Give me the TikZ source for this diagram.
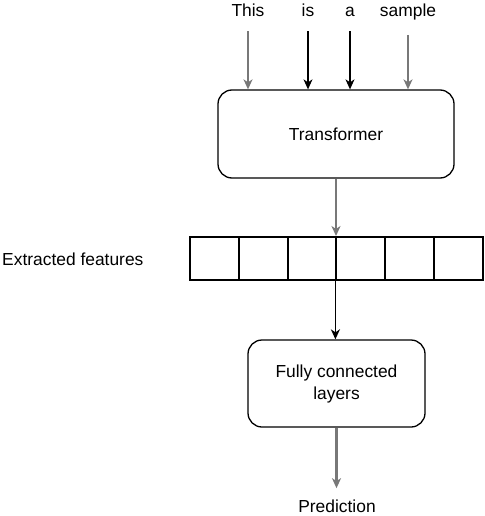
\documentclass[tikz,border=0pt]{standalone}
\usepackage{fontspec}
\setmainfont{Liberation Sans}
\usetikzlibrary{arrows.meta}
\definecolor{arrowgrey}{RGB}{120,120,120}
\begin{document}
\begin{tikzpicture}[x=1pt,y=-1pt,
  font=\fontsize{17.4}{22}\selectfont,
  word/.style={anchor=base,inner sep=3pt},
  roundbox/.style={draw=black,line width=1.3pt,rounded corners=14pt,align=center},
  cell/.style={draw=black,line width=2pt,minimum width=48.8pt,minimum height=43pt,inner sep=0pt},
  tip/.style={-{Stealth[length=10pt,width=9pt,inset=3pt]}},
  greyarrow/.style={tip,draw=arrowgrey,line width=2.2pt},
  blackarrow/.style={tip,draw=black,line width=1.1pt},
]
\useasboundingbox (0,0) rectangle (484,516);
\node[word] (This) at (248,17) {This};
\node[word] (is) at (308,17) {is};
\node[word] (a) at (350,17) {a};
\node[word] (sample) at (408,17) {sample};

\node[roundbox,minimum width=236pt,minimum height=88pt] (T) at (336,134) {Transformer};

\foreach \i in {1,...,6}{
  \node[cell] (c\i) at ({190+48.8*(\i-0.5)},258.5) {};
}
\node[anchor=base west,inner sep=0pt] (EF) at (2,265) {Extracted features};

\node[roundbox,minimum width=177pt,minimum height=87pt] (FC) at (336.5,383.5) {Fully connected\\layers};

\node[word] (P) at (337,512) {Prediction};

\draw[greyarrow,shorten <=11pt] (This.south) -- (This.south |- T.north);
\draw[blackarrow,shorten <=11pt] (is.south) -- (is.south |- T.north);
\draw[blackarrow,shorten <=11pt] (a.south) -- (a.south |- T.north);
\draw[greyarrow,shorten <=11pt] (sample.south) -- (sample.south |- T.north);
\draw[greyarrow] (T.south) -- (T.south |- c4.north);
\draw[blackarrow,line width=1.6pt] (c4.south west) -- (c4.south west |- FC.north);
\draw[greyarrow,shorten >=8pt] (FC.south) -- (FC.south |- P.north);
\end{tikzpicture}
\end{document}
